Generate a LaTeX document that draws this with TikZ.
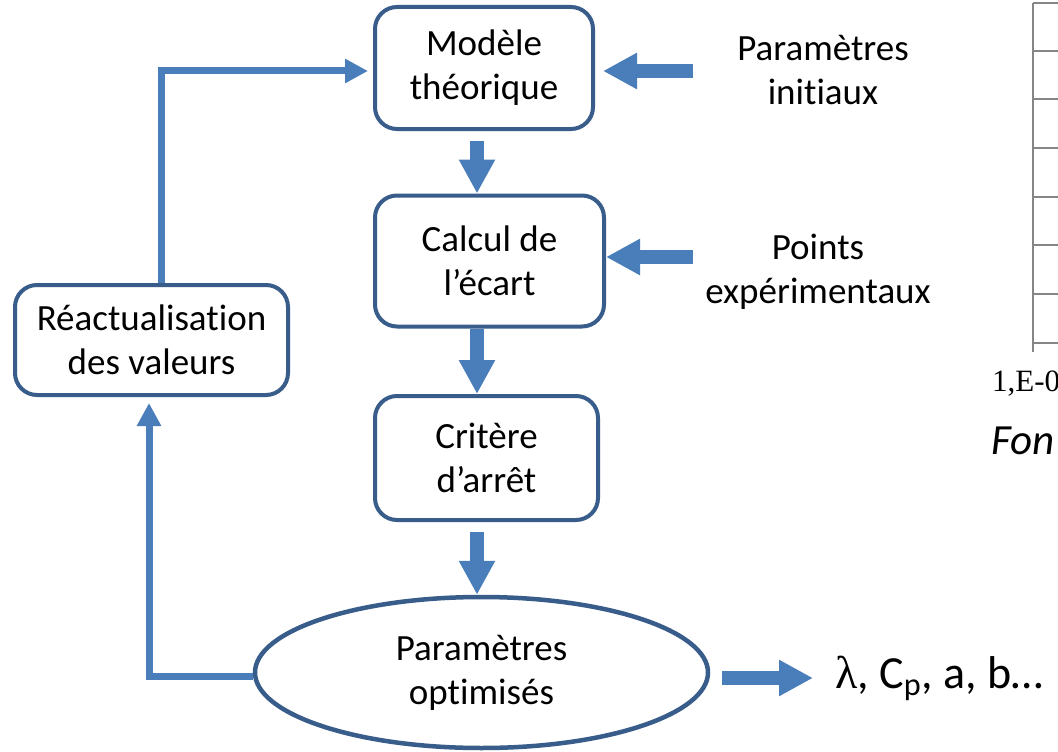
\documentclass[tikz,border=0pt]{standalone}
\usepackage{fontspec}
\setmainfont{Carlito}[Ligatures=NoCommon]
\newfontfamily\grk{Liberation Serif}
\usetikzlibrary{arrows.meta,shapes.geometric}
\definecolor{bord}{HTML}{385D8A}
\definecolor{flow}{HTML}{4A7EBB}
\definecolor{axisgray}{HTML}{868686}
\begin{document}
\begin{tikzpicture}[x=1pt,y=-1pt,
  box/.style={draw=bord, line width=4pt, rounded corners=22pt, fill=white, align=center, inner sep=0pt, font=\fontsize{37}{44}\selectfont},
  blockarrow/.style={draw=flow, line width=14pt, -{Triangle[width=34pt,length=34pt]}},
  thinflow/.style={draw=flow, line width=7pt, -{Triangle[width=23pt,length=23pt]}},
  lbl/.style={align=center, inner sep=0pt, font=\fontsize{37}{44}\selectfont},
  chartline/.style={draw=axisgray, line width=2pt}]
\fill[white] (0,0) rectangle (1058,752);
\useasboundingbox (0,0) rectangle (1058,752);

% boxes
\node[box, minimum width=218pt, minimum height=122pt] (m) at (484,68) {Modèle\\théorique};
\node[box, minimum width=229pt, minimum height=131pt] (c) at (489.5,261) {Calcul de\\l’écart};
\node[box, minimum width=223pt, minimum height=124pt] (k) at (486.5,458) {Critère\\d’arrêt};
\node[box, minimum width=273pt, minimum height=110pt] (r) at (151.5,340) {Réactualisation\\des valeurs};
\node[box, ellipse, sharp corners, line width=4.5pt, minimum width=453pt, minimum height=151pt] (o) at (481.5,672.5) {Paramètres\\optimisés};

% side labels
\node[lbl] (pi) at (823,70) {Paramètres\\initiaux};
\node[lbl] (pe) at (818,271.5) {Points\\expérimentaux};
\node[anchor=west, inner sep=0pt, font=\fontsize{46}{50}\selectfont] (lam) at (835,678) {{\grk λ}, C\textsubscript{p}, a, b…};

% helper coordinates
\coordinate (ax) at (477,0);
\coordinate (pis) at (693,71);
\coordinate (pes) at (693,257);
\coordinate (lt) at (813,678);
\coordinate (lx) at (161,0);
\coordinate (lx2) at (149,0);

% block arrows
\draw[blockarrow, shorten <=10pt] (m.south -| ax) -- (c.north -| ax);
\draw[blockarrow] (c.south -| ax) -- (k.north -| ax);
\draw[blockarrow, shorten <=10pt] (k.south -| ax) -- (o.north -| ax);
\draw[blockarrow, shorten >=8pt] (pis) -- (pis -| m.east);
\draw[blockarrow] (pes) -- (pes -| c.east);
\draw[blockarrow, shorten <=12pt] (o.east |- lt) -- (lt);

% feedback loop
\draw[thinflow, shorten >=5pt] (r.north -| lx) |- ([yshift=-3pt]m.west);
\draw[thinflow, shorten >=6pt] ([yshift=-4pt]o.west) -| (r.south -| lx2);

% partial chart on the right
\draw[chartline] (1033,3) -- (1033,352);
\foreach \yy in {3,51,99,148,197,245,294,343}
  \draw[chartline] (1033,\yy) -- (1060,\yy);
\node[anchor=base west, inner sep=0pt, font=\grk\fontsize{31}{31}\selectfont] (tick) at (992,391) {1,E-0};
\node[anchor=base west, inner sep=0pt, font=\itshape\fontsize{43}{43}\selectfont] (fon) at (991,454) {Fon};
\end{tikzpicture}
\end{document}
